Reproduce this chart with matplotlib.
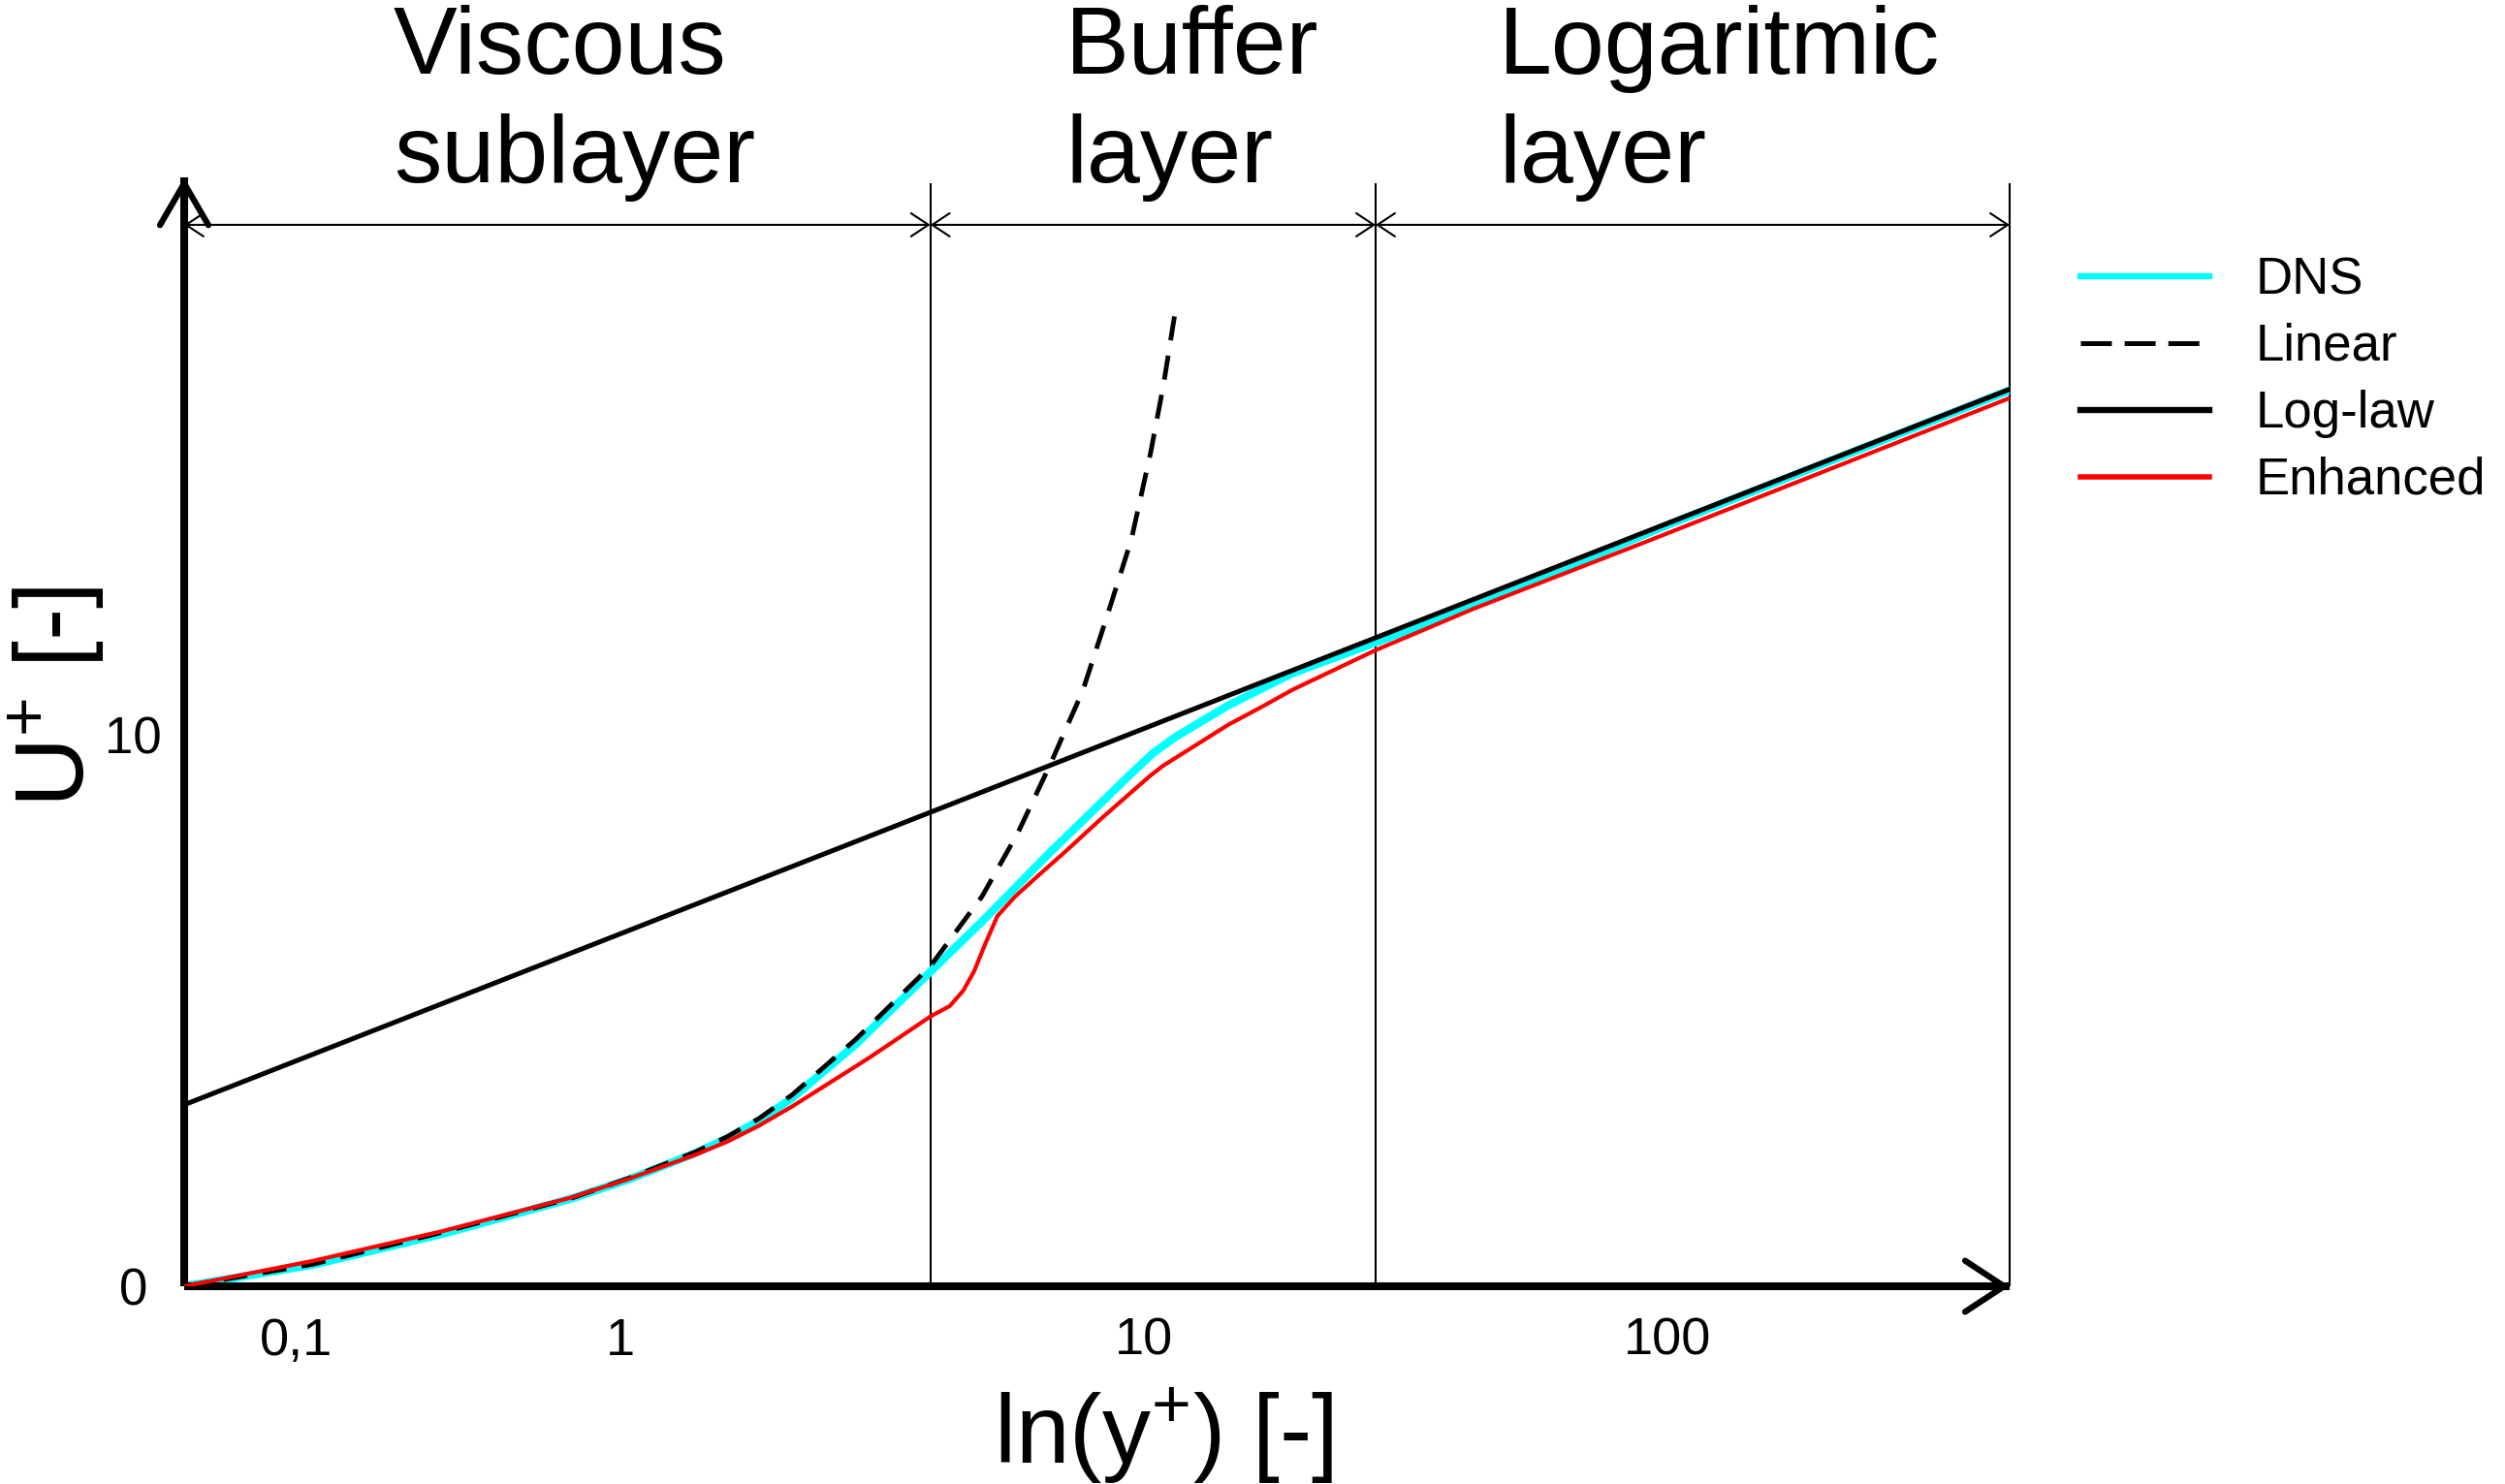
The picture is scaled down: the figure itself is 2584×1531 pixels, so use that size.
import matplotlib
matplotlib.use("Agg")
import matplotlib.pyplot as plt
from matplotlib.lines import Line2D
from matplotlib.patches import ArrowStyle
from matplotlib.ticker import NullLocator

plt.rcParams.update({
    "font.family": ["Liberation Sans", "DejaVu Sans"],
    "mathtext.fontset": "custom",
    "mathtext.rm": "Liberation Sans",
    "mathtext.it": "Liberation Sans:italic",
    "mathtext.bf": "Liberation Sans:bold",
    "lines.scale_dashes": False,
})

W, H = 2584, 1531

# values (y+ on log axis, U+)
dns_y = [0.147, 0.259, 0.458, 0.808, 1.04, 1.389, 1.60, 1.84, 2.13, 2.82, 3.91,
         4.99, 6.61, 9.38, 10.4, 11.5, 14.5, 19.2, 27.7, 42.6, 100, 450]
dns_u = [0.0, 0.39, 0.95, 1.59, 1.94, 2.41, 2.68, 3.00, 3.41, 4.39, 5.70,
         6.68, 7.86, 9.26, 9.66, 9.96, 10.53, 11.11, 11.67, 12.33, 13.80, 16.24]

linear_y = [0.147, 0.259, 0.458, 0.808, 1.04, 1.389, 1.60, 1.84, 2.13, 2.82,
            3.91, 4.91, 5.74, 6.61, 7.64, 8.54, 9.46, 10.3, 10.9, 11.5]
linear_u = [0.0, 0.40, 0.98, 1.60, 1.96, 2.43, 2.71, 3.04, 3.47, 4.48,
            5.80, 7.07, 8.21, 9.44, 10.79, 12.20, 13.53, 15.11, 16.34, 17.72]

loglaw_y = [0.147, 450]
loglaw_u = [3.29, 16.26]

enh_y = [0.147, 0.259, 0.458, 0.808, 1.04, 1.389, 1.60, 1.84, 2.13, 2.82, 3.03,
         3.40, 3.91, 4.26, 4.52, 4.74, 4.97, 5.25, 5.67, 6.26, 7.14, 8.32,
         9.58, 10.3, 10.9, 14.5, 16.7, 19.2, 27.7, 42.6, 91.8, 450]
enh_u = [0.0, 0.46, 1.00, 1.61, 1.95, 2.38, 2.62, 2.91, 3.26, 3.99, 4.18,
         4.50, 4.89, 5.08, 5.36, 5.71, 6.19, 6.71, 7.06, 7.43, 7.91, 8.49,
         9.00, 9.26, 9.44, 10.18, 10.49, 10.81, 11.53, 12.28, 13.51, 16.10]

# layer borders (y+)
borders = [0.147, 3.91, 27.7, 450]
layer_names = [("Viscous", "sublayer"), ("Buffer", "layer"), ("Logaritmic", "layer")]
layer_left_px = [406, 1099, 1546]

# tick labels; "0,1" sits where the drawing puts it, not at 0.1
xtick_pos = [0.24, 1, 10, 100]
xtick_lab = ["0,1", "1", "10", "100"]
ytick_pos = [0, 10]
ytick_lab = ["0", "10"]

fig = plt.figure(figsize=(W / 100, H / 100), dpi=100)
ax = fig.add_axes([190 / W, (H - 1327) / H, (2073 - 190) / W, (1327 - 183) / H])

ax.set_xscale("log")
ax.set_xlim(borders[0], borders[-1])
ax.set_ylim(0, 20.1)

ax.plot(dns_y, dns_u, color="#00ffff", lw=6, zorder=2)
ax.plot(linear_y, linear_u, color="k", lw=3.5, dashes=(18, 11.5), zorder=3)
ax.plot(loglaw_y, loglaw_u, color="k", lw=3.6, zorder=4)
ax.plot(enh_y, enh_u, color="#ff0000", lw=3.0, zorder=5)

# thin separators
ax.vlines(borders[1:], 0, 20.0, color="k", lw=1.5, zorder=1, clip_on=False)

# dimension arrows between layers
dim = ArrowStyle("<->", head_length=0.65, head_width=0.43)
for a, b in zip(borders[:-1], borders[1:]):
    ax.annotate("", xy=(b, 19.24), xytext=(a, 19.24), xycoords="data",
                annotation_clip=False,
                arrowprops=dict(arrowstyle=dim, lw=1.5, color="k",
                                mutation_scale=20, shrinkA=0, shrinkB=0))

# axes as arrows
for s in ["top", "right"]:
    ax.spines[s].set_visible(False)
for s in ["left", "bottom"]:
    ax.spines[s].set_linewidth(5.8)
    ax.spines[s].set_capstyle("butt")

ax.annotate("", xy=(0, 1), xytext=(0, 0.95), xycoords="axes fraction",
            annotation_clip=False,
            arrowprops=dict(arrowstyle=ArrowStyle("->", head_length=1.55, head_width=0.9),
                            lw=4.5, color="k", mutation_scale=20, shrinkA=0, shrinkB=0))
ax.annotate("", xy=(1, 0), xytext=(0.97, 0), xycoords="axes fraction",
            annotation_clip=False,
            arrowprops=dict(arrowstyle=ArrowStyle("->", head_length=1.45, head_width=0.95),
                            lw=4.5, color="k", mutation_scale=20, shrinkA=0, shrinkB=0))

ax.xaxis.set_minor_locator(NullLocator())
ax.set_xticks(xtick_pos, xtick_lab)
ax.set_yticks(ytick_pos, ytick_lab)
ax.tick_params(axis="x", length=0, pad=23, labelsize=39)
ax.tick_params(axis="y", length=0, pad=38, labelsize=38)
for t in ax.get_yticklabels():
    t.set_horizontalalignment("center")

# axis titles
fig.text(1200 / W, 1 - 1510 / H, r"ln(y$^{+}$) [-]", fontsize=72,
         ha="center", va="baseline")
fig.text(58 / W, 1 - 719 / H, r"U$^{+}$ [-]", fontsize=72, rotation=90,
         ha="center", va="center")

# layer names above the plot
for (l1, l2), xp in zip(layer_names, layer_left_px):
    fig.text(xp / W, 1 - 76 / H, l1, fontsize=71, ha="left", va="baseline")
    fig.text(xp / W, 1 - 188 / H, l2, fontsize=71, ha="left", va="baseline")

handles = [
    Line2D([], [], color="#00ffff", lw=4.6),
    Line2D([], [], color="k", lw=3.6, dashes=(23, 9.5)),
    Line2D([], [], color="k", lw=4.6),
    Line2D([], [], color="#ff0000", lw=4.0),
]
fig.legend(handles, ["DNS", "Linear", "Log-law", "Enhanced"],
           loc="upper left", bbox_to_anchor=(2146 / W, 1 - 264 / H),
           frameon=False, fontsize=38, handlelength=2.52, handletextpad=0.9,
           labelspacing=0.36, borderpad=0, borderaxespad=0)

fig.savefig("out.png", dpi=100)
